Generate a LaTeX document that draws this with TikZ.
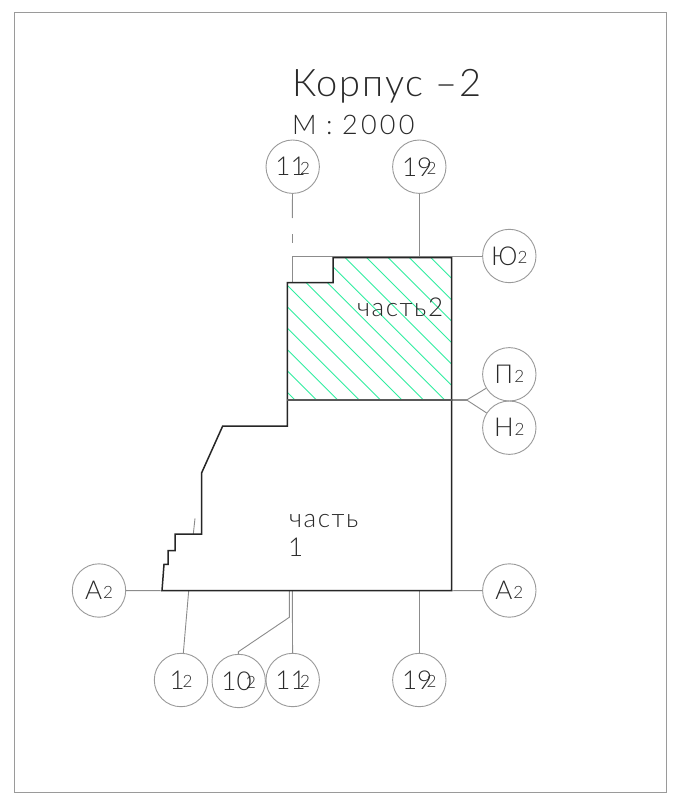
\documentclass[tikz,border=0pt]{standalone}
\usepackage{fontspec}
\setmainfont{Lato Light}
\newfontface\titlefont{Lato Light}[LetterSpace=4.5]
\newfontface\scalefont{Lato Light}[LetterSpace=12]
\newfontface\partfont{Lato Light}[LetterSpace=6]
\usetikzlibrary{calc}
\definecolor{leader}{HTML}{8C8C8C}
\definecolor{ring}{HTML}{9A9A9A}
\definecolor{hatchc}{HTML}{30EEA0}
\definecolor{inkc}{HTML}{2A2A2A}
\tikzset{
  axis/.style={circle,draw=ring,line width=0.9pt,minimum size=53.4pt,inner sep=0pt,text=inkc,font=\fontsize{26}{26}\selectfont},
  leaderline/.style={draw=leader,line width=0.9pt},
  wall/.style={draw=black!85,line width=1.5pt,line join=miter},
  hatchline/.style={draw=hatchc,line width=0.9pt},
  caption/.style={anchor=base west,inner sep=0pt,text=inkc},
}
\newcommand{\ax}[3][-5.5pt]{#2\kern#1\raisebox{1.5pt}{\fontsize{17}{17}\selectfont #3}}
\begin{document}
\begin{tikzpicture}[x=1pt,y=-1pt]
\useasboundingbox (0,0) rectangle (699,810);
\fill[white] (0,0) rectangle (699,810);
\draw[ring,line width=0.9pt] (14,12) rectangle (666,792);

% axis bubbles
\node[axis] (t11) at (292.7,166.7) {\ax{11}{2}};
\node[axis] (t19) at (419.3,166.7) {\ax{19}{2}};
\node[axis] (yu)  at (509.3,256) {\ax[0pt]{Ю}{2}};
\node[axis] (pe)  at (509.3,374.3) {\ax[1pt]{П}{2}};
\node[axis] (en)  at (509.3,427.7) {\ax[1pt]{Н}{2}};
\node[axis] (ar)  at (509.3,590.5) {\ax[1pt]{А}{2}};
\node[axis] (al)  at (99,590.5) {\ax[1pt]{А}{2}};
\node[axis] (b1)  at (181,680) {\ax[-2pt]{1}{2}};
\node[axis] (b10) at (238.7,681) {\ax{10}{2}};
\node[axis] (b11) at (292.7,680) {\ax{11}{2}};
\node[axis] (b19) at (419.3,680) {\ax{19}{2}};

% named points of the leaders
\coordinate (t11a) at (292.3,218);
\coordinate (t11b) at (292.3,234);
\coordinate (t11c) at (292.3,243);
\coordinate (t11d) at (292.3,256);
\coordinate (t11e) at (292.3,283);
\coordinate (t19e) at (419.3,258);
\coordinate (split) at (466.7,400);
\coordinate (al1) at (451.7,400);
\coordinate (wl) at (162,590.7);
\coordinate (wr) at (451.7,590.7);
\coordinate (b1top) at (188.7,590.7);
\coordinate (tickt) at (195,518.3);
\coordinate (tickb) at (193.3,534);
\coordinate (b10t) at (289.3,590.7);
\coordinate (b10k) at (289.3,617.3);
\coordinate (b10s) at (238.4,651.7);
\coordinate (b11t) at (292.3,590.7);
\coordinate (b19t) at (419.3,590.7);

% hatch
\begin{scope}
  \clip (287.3,400) -- (287.3,282.7) -- (333,282.7) -- (333,257.7) -- (451.7,257.7) -- (451.7,400) -- cycle;
  \foreach \k in {-11,...,6} {
    \pgfmathsetmacro{\c}{19.4+21.4*\k}
    \draw[hatchline] (280,280+\c) -- (460,460+\c);
  }
\end{scope}

% leaders
\draw[leaderline] (t11) -- (t11a);
\draw[leaderline] (t11b) -- (t11c);
\draw[leaderline] (t11d) -- (t11e);
\draw[leaderline] (t11d) -- (yu);
\draw[leaderline] (t19) -- (t19e);
\draw[leaderline,line width=1.4pt] (al1) -- (split);
\draw[leaderline] (split) -- (pe);
\draw[leaderline] (split) -- (en);
\draw[leaderline] (al) -- (wl);
\draw[leaderline] (wr) -- (ar);
\draw[leaderline] (b1top) -- (b1);
\draw[leaderline] (tickt) -- (tickb);
\draw[leaderline] (b10t) -- (b10k) -- (b10s) -- (b10);
\draw[leaderline] (b11t) -- (b11);
\draw[leaderline] (b19t) -- (b19);

% building
\draw[wall] (162,590.7) -- (164,564.3) -- (168,564.3) -- (168,550.7) -- (175,550.7) -- (175,534)
  -- (201.7,534) -- (201.7,472.7) -- (222.7,426) -- (287.3,426) -- (287.3,282.7) -- (333,282.7)
  -- (333,257.7) -- (451.7,257.7) -- (451.7,590.7) -- cycle;
\draw[draw=black!65,line width=1.3pt] (287.3,400) -- (451.7,400);

% texts
\node[caption,font=\fontsize{38}{38}\titlefont] (title) at (292,97) {Корпус –2};
\node[caption,font=\fontsize{27}{27}\scalefont] (scale) at (292,135) {М\hspace{9.5pt}:\hspace{9.5pt}2000};
\node[caption,font=\fontsize{26}{26}\partfont] (p2) at (357,316) {часть2};
\node[caption,font=\fontsize{26}{26}\partfont] (p1) at (289,527) {часть};
\node[caption,font=\fontsize{26}{26}\partfont] (p1n) at (288,556) {1};
\end{tikzpicture}
\end{document}
